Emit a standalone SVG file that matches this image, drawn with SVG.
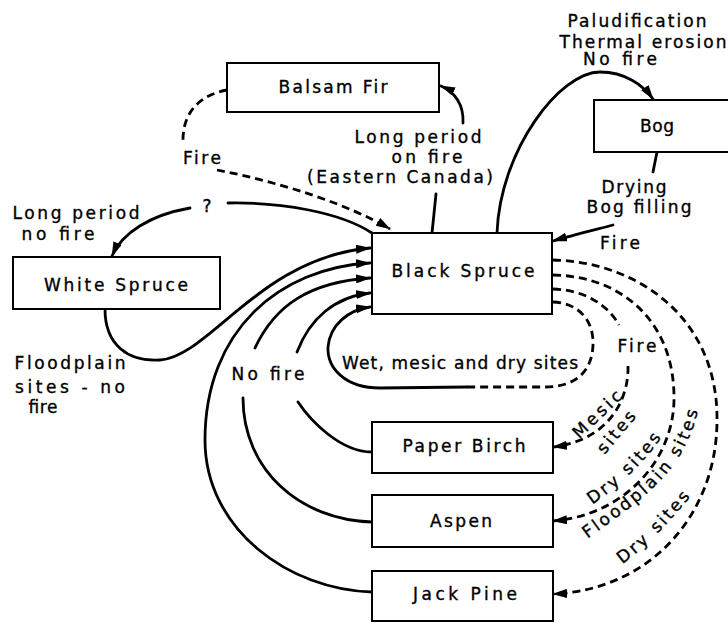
<svg xmlns="http://www.w3.org/2000/svg" width="728" height="623" viewBox="0 0 728 623">
<style>
  .box { fill: #fff; stroke: #000; stroke-width: 2; }
  .ln { fill: none; stroke: #000; stroke-width: 2.8; stroke-linecap: round; }
  .dash { fill: none; stroke: #000; stroke-width: 2.8; stroke-dasharray: 8 5; }
  text { font-family: "DejaVu Sans", "Liberation Sans", sans-serif; font-size: 17px; fill: #000; stroke: #000; stroke-width: 0.35; }
  .c { text-anchor: middle; }
  .sp { letter-spacing: 2.5px; }
</style>
<defs>
  <marker id="ah" markerUnits="userSpaceOnUse" viewBox="0 0 15 9" refX="14" refY="4.5" markerWidth="15" markerHeight="9" orient="auto">
    <path d="M0,0 L15,4.5 L0,9 z" fill="#000"/>
  </marker>
  <path id="tpDry1" d="M567.1,516.2 L591.7,499 Q635.3,468.5 659.6,431 L676,405.8"/>
  <path id="tpFlood" d="M563,551 L587,533 C640,494 680,470 694,406 L700,378"/>
  <path id="tpDry2" d="M597.5,575.9 L621.8,558.3 Q651.9,536.4 692.4,486.4 L711.3,463.1"/>
</defs>
<rect width="728" height="623" fill="#fff"/>

<g id="connectors">
  <path class="dash" d="M227,90 C200,95 183,112 183,140"/>
  <path class="dash" d="M217,170 C280,182 350,205 390,229" marker-end="url(#ah)"/>
  <path class="ln" d="M432,233 L436,194"/>
  <path class="ln" d="M463,123 C464,105 455,92 441,86" marker-end="url(#ah)"/>
  <path class="ln" d="M497,233 C500,150 560,72 600,72 C625,72 643,85 653,99" marker-end="url(#ah)"/>
  <path class="ln" d="M657,152 L653,172"/>
  <path class="ln" d="M613,225 C590,231 570,236 553,241" marker-end="url(#ah)"/>
  <path class="ln" d="M372,233 C340,212 280,202 228,203"/>
  <path class="ln" d="M190,208 C150,215 122,233 112,256" marker-end="url(#ah)"/>
  <path class="ln" d="M105,309 C105,345 128,362 160,360 C210,356 260,258 370,248" marker-end="url(#ah)"/>
  <path class="ln" d="M372,592 C290,590 205,530 205,440 C205,330 280,268 370,263" marker-end="url(#ah)"/>
  <path class="ln" d="M372,522 C300,520 243,470 243,398"/>
  <path class="ln" d="M255,348 C275,305 310,282 370,278" marker-end="url(#ah)"/>
  <path class="ln" d="M372,452 C340,452 310,420 298,402"/>
  <path class="ln" d="M297,352 C310,318 335,297 370,293" marker-end="url(#ah)"/>
  <path class="dash" d="M553,302 C580,303 594,322 593,345 C592,372 575,387 545,387 L467,387"/>
  <path class="ln" d="M467,387 L380,388 C345,388 327,368 328,347 C330,325 348,310 370,307" marker-end="url(#ah)"/>
  <path class="dash" d="M553,260 C640,262 718,320 717,420 C717,515 650,590 553,594" marker-end="url(#ah)"/>
  <path class="dash" d="M553,275 C620,276 675,320 674,400 C673,460 625,515 553,521" marker-end="url(#ah)"/>
  <path class="dash" d="M553,289 C585,290 608,305 619,325"/>
  <path class="dash" d="M628,366 C629,398 610,440 553,447" marker-end="url(#ah)"/>
</g>

<g id="balsam-fir">
  <rect class="box" x="227" y="63" width="212" height="49"/>
  <text class="c" x="333" y="93" textLength="109">Balsam Fir</text>
</g>
<g id="bog">
  <rect class="box" x="594" y="100" width="140" height="52"/>
  <text class="c" x="657" y="132" textLength="34">Bog</text>
</g>
<g id="white-spruce">
  <rect class="box" x="13" y="257" width="207" height="52"/>
  <text class="c" x="116" y="291" textLength="144">White Spruce</text>
</g>
<g id="black-spruce">
  <rect class="box" x="372" y="233" width="180" height="81"/>
  <text class="c" x="463" y="277" textLength="143">Black Spruce</text>
</g>
<g id="paper-birch">
  <rect class="box" x="372" y="422" width="181" height="51"/>
  <text class="c" x="464" y="452" textLength="123">Paper Birch</text>
</g>
<g id="aspen">
  <rect class="box" x="372" y="495" width="181" height="52"/>
  <text class="c" x="461" y="527" textLength="62">Aspen</text>
</g>
<g id="jack-pine">
  <rect class="box" x="372" y="571" width="181" height="50"/>
  <text class="c" x="465" y="600" textLength="104">Jack Pine</text>
</g>

<g id="labels">
  <text class="c" x="637" y="27" textLength="139">Paludification</text>
  <text class="c" x="643" y="48" textLength="167">Thermal erosion</text>
  <text class="c" x="620" y="65" textLength="74">No fire</text>
  <text class="c" x="634" y="193" textLength="65">Drying</text>
  <text class="c" x="639" y="213" textLength="105">Bog filling</text>
  <text class="c" x="620" y="249" textLength="40">Fire</text>
  <text class="c" x="418" y="143" textLength="127">Long period</text>
  <text class="c" x="427" y="163" textLength="71">on fire</text>
  <text class="c" x="400" y="183" textLength="186">(Eastern Canada)</text>
  <text class="c" x="202" y="164" textLength="38">Fire</text>
  <text class="c" x="76" y="219" textLength="127">Long period</text>
  <text class="c" x="58" y="240" textLength="73">no fire</text>
  <text class="c" x="207" y="212">?</text>
  <text class="c" x="70" y="369" textLength="111">Floodplain</text>
  <text class="c" x="70" y="393" textLength="110">sites - no</text>
  <text class="c" x="43" y="413" textLength="29">fire</text>
  <text class="c" x="268" y="380" textLength="73">No fire</text>
  <text class="c" x="460" y="369" textLength="236">Wet, mesic and dry sites</text>
  <text class="c" x="637" y="352" textLength="39">Fire</text>
  <text class="c" transform="translate(597,414) rotate(-44)" x="0" y="6" textLength="61">Mesic</text>
  <text class="c" transform="translate(616,432) rotate(-50)" x="0" y="6" textLength="50">sites</text>
  <text class="sp" dy="5"><textPath href="#tpDry1" startOffset="27">Dry sites</textPath></text>
  <text class="sp" dy="5"><textPath href="#tpFlood" startOffset="27">Floodplain sites</textPath></text>
  <text class="sp" dy="5"><textPath href="#tpDry2" startOffset="27">Dry sites</textPath></text>
</g>
</svg>
